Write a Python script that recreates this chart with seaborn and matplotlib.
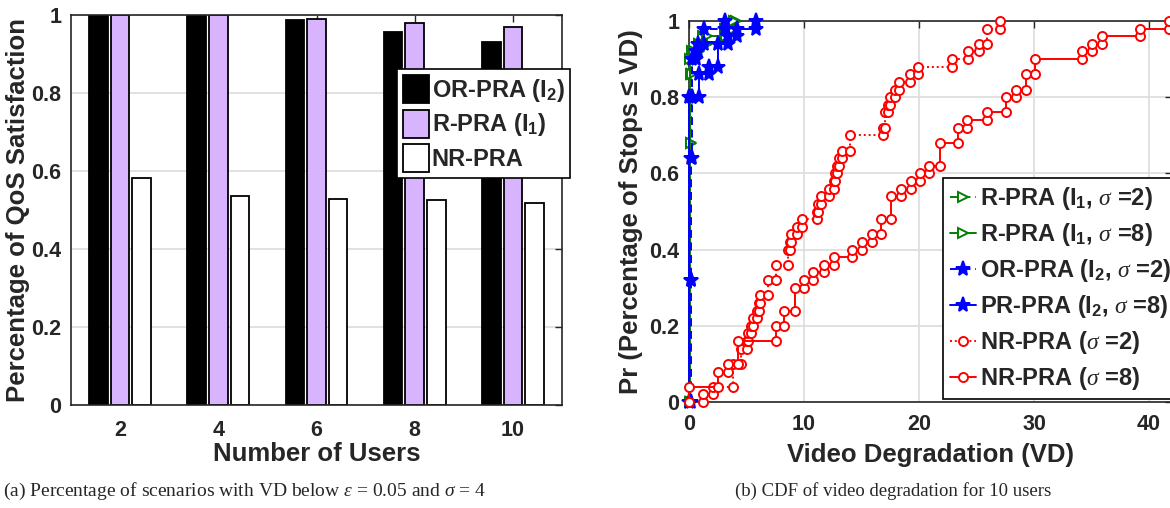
import numpy as np
import pandas as pd
import matplotlib
matplotlib.use("Agg")
import matplotlib.pyplot as plt
from matplotlib.patches import Patch
import seaborn as sns

# ---------------- (a) QoS satisfaction per number of users ----------------
users = ["2", "4", "6", "8", "10"]
qos_or_pra = [1.0, 1.0, 0.987, 0.956, 0.931]
qos_r_pra = [1.0, 1.0, 0.990, 0.979, 0.968]
qos_nr_pra = [0.583, 0.536, 0.529, 0.526, 0.519]
scheme_labels = ["OR-PRA (I$_2$)", "R-PRA (I$_1$)", "NR-PRA"]
bar_colors = ["#000000", "#d8b4fe", "#ffffff"]

# ---------------- (b) empirical CDF of video degradation ----------------
# VD value at each jump of the CDF, and the CDF level reached there
r_s2_vd = [0.2, 0.2, 0.3, 0.9, 1.2, 3.1, 4.1]
r_s2_cdf = [0.68, 0.86, 0.92, 0.94, 0.96, 0.98, 1.00]
r_s8_vd = [0.1, 0.4, 0.9, 1.6, 3.2, 3.9]
r_s8_cdf = [0.90, 0.92, 0.94, 0.96, 0.98, 1.00]
or_s2_vd = [0.2, 0.2, 0.3, 0.3, 0.6, 0.8, 1.3, 3.1]
or_s2_cdf = [0.32, 0.64, 0.80, 0.90, 0.92, 0.94, 0.98, 1.00]
pr_s8_vd = [0.0, 0.9, 1.7, 2.5, 3.4, 4.2, 5.8]
pr_s8_cdf = [0.80, 0.86, 0.88, 0.94, 0.96, 0.98, 1.00]
nr_s2_vd = [1.2, 2.1, 3.8, 4.5, 5.0, 5.1, 5.4, 5.6, 5.9, 6.1, 6.2, 6.9, 7.6,
            8.6, 8.8, 8.9, 9.4, 9.8, 11.1, 11.2, 11.5, 12.2, 12.6, 12.7, 12.9,
            13.0, 13.3, 14.0, 16.9, 17.0, 17.3, 17.5, 17.9, 18.3, 19.2, 19.9,
            22.9, 24.3, 25.2, 25.9, 27.0]
nr_s2_cdf = [0.02, 0.04, 0.10, 0.14, 0.16, 0.18, 0.20, 0.22, 0.24, 0.26, 0.28,
             0.32, 0.36, 0.40, 0.42, 0.44, 0.46, 0.48, 0.50, 0.52, 0.54, 0.56,
             0.58, 0.60, 0.62, 0.64, 0.66, 0.70, 0.72, 0.76, 0.78, 0.80, 0.82,
             0.84, 0.86, 0.88, 0.90, 0.92, 0.94, 0.98, 1.00]
nr_s8_vd = [0.0, 2.5, 3.4, 4.3, 7.6, 8.3, 9.2, 10.0, 10.8, 11.7, 12.6, 14.2,
            15.0, 15.9, 16.7, 17.6, 18.4, 19.3, 20.1, 20.9, 21.8, 23.4, 24.2,
            25.9, 27.6, 28.4, 29.3, 30.1, 34.2, 35.0, 35.9, 39.2, 41.7]
nr_s8_cdf = [0.04, 0.08, 0.10, 0.16, 0.20, 0.24, 0.30, 0.32, 0.34, 0.36, 0.38,
             0.40, 0.42, 0.44, 0.48, 0.54, 0.56, 0.58, 0.60, 0.62, 0.68, 0.72,
             0.74, 0.76, 0.80, 0.82, 0.86, 0.90, 0.92, 0.94, 0.96, 0.98, 1.00]

sns.set_style("white")
plt.rcParams.update({
    "font.family": ["Liberation Sans", "DejaVu Sans"],
    "font.weight": "bold",
    "mathtext.fontset": "custom",
    "mathtext.rm": "Liberation Sans:weight=bold",
    "mathtext.bf": "Liberation Sans:weight=bold",
    "mathtext.it": "Liberation Serif:style=italic:weight=normal",
    "axes.edgecolor": "#262626",
    "axes.linewidth": 1.2,
})

W, H = 1170, 508
fig = plt.figure(figsize=(W / 100, H / 100), dpi=100)
ax1 = fig.add_axes([71 / W, 103 / H, 491 / W, 390 / H])
ax2 = fig.add_axes([689 / W, 106 / H, 483 / W, 381 / H])

TICK_FS = 15.5
LABEL_FS = 18.5
LEG_FS = 17


def style_axes(ax, xpad):
    ax.tick_params(axis="both", which="both", direction="in", length=5,
                   width=1.0, colors="#262626", top=True, right=True,
                   labelsize=TICK_FS)
    ax.tick_params(axis="x", pad=xpad)
    ax.tick_params(axis="y", pad=7)
    for lab in ax.get_xticklabels() + ax.get_yticklabels():
        lab.set_fontweight("bold")
    for s in ax.spines.values():
        s.set_visible(True)
        s.set_color("#262626")
        s.set_linewidth(1.2)


# ---------------- panel (a): grouped bars ----------------
bars = pd.DataFrame({
    "users": users * 3,
    "scheme": np.repeat(scheme_labels, len(users)),
    "qos": qos_or_pra + qos_r_pra + qos_nr_pra,
})
sns.barplot(data=bars, x="users", y="qos", hue="scheme", order=users,
            hue_order=scheme_labels, palette=bar_colors, width=0.66, gap=0.14,
            edgecolor="black", linewidth=1.3, saturation=1, legend=False,
            errorbar=None, ax=ax1, zorder=2)
ax1.set_xlim(-0.5, 4.5)
ax1.set_ylim(0, 1)
ax1.set_yticks([0, 0.2, 0.4, 0.6, 0.8, 1.0])
ax1.set_yticklabels(["0", "0.2", "0.4", "0.6", "0.8", "1"])
ax1.yaxis.grid(True, color="#dedede", linewidth=1.3, zorder=0)
ax1.set_axisbelow(True)
style_axes(ax1, xpad=11)
ax1.set_xlabel("Number of Users", fontsize=LABEL_FS, fontweight="bold", va="center")
ax1.xaxis.set_label_coords(0.5, (405 - 454) / 390)
ax1.set_ylabel("Percentage of QoS Satisfaction", fontsize=LABEL_FS,
               fontweight="bold", va="center")
ax1.yaxis.set_label_coords((18 - 71) / 491, 0.5)

bar_handles = [Patch(facecolor=c, edgecolor="black", linewidth=1.3) for c in bar_colors]
leg1 = ax1.legend(bar_handles, scheme_labels, loc="upper left",
                  bbox_to_anchor=((397 - 71) / 491, (405 - 69) / 390),
                  borderaxespad=0, fontsize=LEG_FS, handlelength=1.1,
                  handleheight=1.45, handletextpad=0.12, labelspacing=0.25,
                  borderpad=0.25, frameon=True, fancybox=False, framealpha=1,
                  edgecolor="black")
leg1.get_frame().set_linewidth(1.2)
leg1.set_zorder(5)


# ---------------- panel (b): CDF staircases ----------------
def cdf_vertices(vd, level):
    vd = np.asarray(vd, float)
    level = np.asarray(level, float)
    prev = np.concatenate([[0.0], level[:-1]])
    return pd.DataFrame({"vd": np.repeat(vd, 2),
                         "cdf": np.column_stack([prev, level]).ravel()})


series = [
    (r_s2_vd, r_s2_cdf, "R-PRA (I$_1$, $\\sigma$ =2)", "#008000", (0, (4, 2.5)), ">", "white", 7.5),
    (r_s8_vd, r_s8_cdf, "R-PRA (I$_1$, $\\sigma$ =8)", "#008000", "-", ">", "white", 7.5),
    (or_s2_vd, or_s2_cdf, "OR-PRA (I$_2$, $\\sigma$ =2)", "#0000ff", (0, (4, 2.5)), "*", "#0000ff", 11),
    (pr_s8_vd, pr_s8_cdf, "PR-PRA (I$_2$, $\\sigma$ =8)", "#0000ff", "-", "*", "#0000ff", 11),
    (nr_s2_vd, nr_s2_cdf, "NR-PRA ($\\sigma$ =2)", "#ff0000", (0, (1, 1.5)), "o", "white", 6.5),
    (nr_s8_vd, nr_s8_cdf, "NR-PRA ($\\sigma$ =8)", "#ff0000", "-", "o", "white", 6.5),
]
line_handles = []
for vd, lvl, lab, col, ls, mk, mfc, ms in series:
    df = cdf_vertices(vd, lvl)
    sns.lineplot(data=df, x="vd", y="cdf", sort=False, estimator=None, ax=ax2,
                 color=col, linestyle=ls, linewidth=1.4, marker=mk,
                 markersize=ms, markerfacecolor=mfc, markeredgecolor=col,
                 markeredgewidth=1.4, label=lab, legend=False, zorder=3,
                 clip_on=False)
    line_handles.append(ax2.lines[-1])

ax2.set_xlim(0, 42)
ax2.set_ylim(0, 1)
ax2.set_xticks([0, 10, 20, 30, 40])
ax2.set_yticks([0, 0.2, 0.4, 0.6, 0.8, 1.0])
ax2.set_yticklabels(["0", "0.2", "0.4", "0.6", "0.8", "1"])
ax2.grid(True, color="#dedede", linewidth=1.3, zorder=0)
ax2.set_axisbelow(True)
style_axes(ax2, xpad=9)
ax2.set_xlabel("Video Degradation (VD)", fontsize=LABEL_FS, fontweight="bold", va="center")
ax2.xaxis.set_label_coords(0.5, (402 - 455) / 381)
ax2.set_ylabel("Pr (Percentage of Stops \u2264 VD)", fontsize=LABEL_FS,
               fontweight="bold", va="center")
ax2.yaxis.set_label_coords((631 - 689) / 483, 0.5)

leg2 = ax2.legend(line_handles, [s[2] for s in series], loc="upper left",
                  bbox_to_anchor=((943 - 689) / 483, (402 - 178) / 381),
                  borderaxespad=0, fontsize=LEG_FS, handlelength=1.1,
                  handletextpad=0.15, labelspacing=0.38, borderpad=0.3,
                  frameon=True, fancybox=False, framealpha=1, edgecolor="black")
leg2.get_frame().set_linewidth(1.2)
leg2.set_zorder(5)

# ---------------- captions ----------------
fig.text(3 / W, 1 - 491 / H,
         "(a) Percentage of scenarios with VD below $\\epsilon$ = 0.05 and $\\sigma$ = 4",
         family="Liberation Serif", fontweight="normal", fontsize=14,
         ha="left", va="center")
fig.text(735 / W, 1 - 491 / H, "(b) CDF of video degradation for 10 users",
         family="Liberation Serif", fontweight="normal", fontsize=13.5,
         ha="left", va="center")

fig.savefig("out.png", dpi=100)
